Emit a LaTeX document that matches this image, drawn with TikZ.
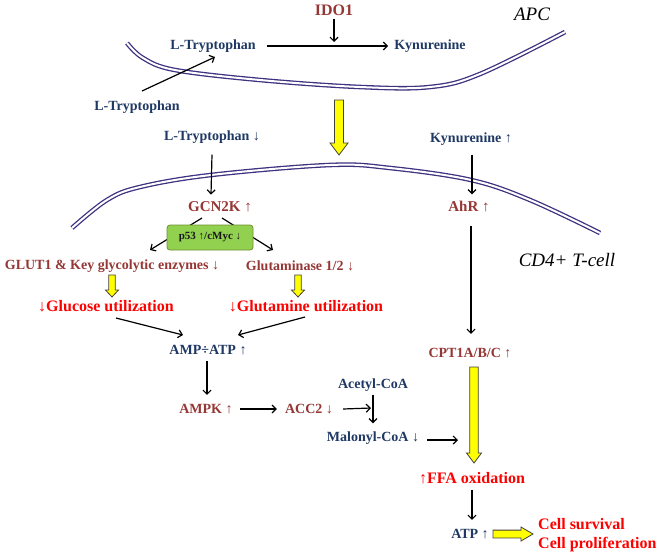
\documentclass[tikz,border=0pt]{standalone}
\usepackage{fontspec}
\setmainfont{Liberation Serif}
\usetikzlibrary{arrows.meta,calc}
\definecolor{dred}{HTML}{953735}
\definecolor{navy}{HTML}{1F3864}
\definecolor{bred}{HTML}{FF0000}
\definecolor{mem}{HTML}{3F3180}
\definecolor{boxg}{HTML}{92D050}
\definecolor{boxb}{HTML}{6F8F30}
\definecolor{yel}{HTML}{FFFF00}
\newcommand\yarrow[5]{%
  \coordinate (yh) at ($(#2)!#5!(#1)$);
  \filldraw[yarr] ($(#1)!#3!90:(#2)$) -- ($(yh)!#3!90:(#2)$) -- ($(yh)!#4!90:(#2)$)
    -- (#2) -- ($(yh)!#4!-90:(#2)$) -- ($(yh)!#3!-90:(#2)$) -- ($(#1)!#3!-90:(#2)$) -- cycle;}
\begin{document}
\begin{tikzpicture}[x=1pt,y=-1pt,
  lbl/.style={font=\bfseries\fontsize{14}{16}\selectfont, inner sep=0pt},
  nv/.style={lbl,text=navy},
  dr/.style={lbl,text=dred},
  rd/.style={lbl,text=bred,font=\bfseries\fontsize{16}{19}\selectfont},
  cellname/.style={font=\itshape\fontsize{19}{22}\selectfont, inner sep=0pt},
  arr/.style={draw=black, line width=1.2pt, -{Straight Barb[length=4pt,width=8pt,line width=1.2pt]}},
  membrane/.style={draw=mem, line width=1.3pt, double=white, double distance=2pt},
  yarr/.style={fill=yel, draw=black!85!yellow, line width=0.8pt, line join=miter},
  pbox/.style={draw=boxb, fill=boxg, rounded corners=3pt, line width=0.8pt, minimum width=86pt, minimum height=25pt, inner sep=0pt, font=\bfseries\fontsize{11}{13}\selectfont, text=black!90}
]
\useasboundingbox (0,0) rectangle (661,557);

% membranes
\draw[membrane] plot[smooth, tension=0.6] coordinates {(127,43) (143,58) (175,70) (260,80) (360,87) (430,87) (480,74) (565,32)};
\draw[membrane] plot[smooth, tension=0.6] coordinates {(72,228) (107,200) (140,187) (211,175) (330,165) (390,168) (471,180) (530,200) (600,233)};

% labels
\node[lbl, text=dred, font=\bfseries\fontsize{16}{19}\selectfont] (ido) at (334,10) {IDO1};
\node[cellname] (apc) at (532,14) {APC};
\node[nv] (trpA) at (213,46) {L-Tryptophan};
\node[nv] (kynA) at (430,46) {Kynurenine};
\node[nv] (trpOut) at (137,107) {L-Tryptophan};
\node[nv] (trpD) at (212,137) {L-Tryptophan ↓};
\node[nv] (kynU) at (471,139) {Kynurenine ↑};
\node[dr, font=\bfseries\fontsize{15}{17}\selectfont] (gcn) at (220,207) {GCN2K ↑};
\node[dr, font=\bfseries\fontsize{15}{17}\selectfont] (ahr) at (469,207) {AhR ↑};
\node[cellname] (cd4) at (567,260) {CD4+ T-cell};
\node[dr] (glut) at (112,266) {GLUT1 \& Key glycolytic enzymes ↓};
\node[dr] (glutam) at (300,266) {Glutaminase 1/2 ↓};
\node[rd] (glucose) at (106,306) {↓Glucose utilization};
\node[rd] (glutamine) at (306,306) {↓Glutamine utilization};
\node[nv] (amp) at (208,350) {AMP÷ATP ↑};
\node[dr] (ampk) at (206,409) {AMPK ↑};
\node[dr] (acc) at (309,409) {ACC2 ↓};
\node[nv] (acetyl) at (373,385) {Acetyl-CoA};
\node[nv] (malonyl) at (373,438) {Malonyl-CoA ↓};
\node[dr] (cpt) at (470,353) {CPT1A/B/C ↑};
\node[rd] (ffa) at (472,478) {↑FFA oxidation};
\node[nv] (atp) at (470,534) {ATP ↑};
\node[rd, align=left, anchor=west] (cell) at (538,535.5) {Cell survival\\Cell proliferation};

% helper coordinates
\coordinate (idotip) at (334,42);
\coordinate (o1) at (142,91);
\coordinate (o2) at (215,57);
\coordinate (join) at (371,408);
\coordinate (malend) at (458,440);

% black connectors
\draw[arr] (ido.south) ++(0,3) -- (idotip);
\draw[arr] ($(trpA.east)+(11,0)$) -- ($(kynA.west)+(-6,0)$);
\draw[arr] (o1) -- (o2);
\draw[arr] ($(trpD.south)+(0,11)$) -- ($(gcn.north)+(-9,-7)$);
\draw[arr] ($(kynU.south)+(1,9)$) -- ($(ahr.north)+(3,-7)$);
\draw[arr] (202,218) -- (150,250);
\draw[arr] (222,218) -- (273,250);
\draw[arr] (116,318) -- (183,335);
\draw[arr] (305,317) -- (238,335);
\draw[arr] ($(amp.south)+(-1,6)$) -- ($(ampk.north)+(1,-9)$);
\draw[arr] ($(ampk.east)+(7,0)$) -- ($(acc.west)+(-8,0)$);
\draw[arr] ($(acc.east)+(10,0)$) -- (join);
\draw[arr] ($(acetyl.south)+(0,3)$) -- ($(malonyl.north)+(0,-8)$);
\draw[arr] ($(malonyl.east)+(8,2)$) -- (malend);
\draw[arr] ($(ahr.south)+(2,13)$) -- ($(cpt.north)+(1,-14)$);
\draw[arr] ($(ffa.south)+(0,6)$) -- ($(atp.north)+(2,-9)$);

% p53 box on top of the arrows
\node[pbox] (p53) at (210,237.5) {p53 ↑/cMyc ↓};

% yellow block arrows
\coordinate (ys1) at (339,100); \coordinate (ye1) at (339,155);
\yarrow{ys1}{ye1}{4.5pt}{9pt}{12pt}
\coordinate (ys2) at (112,275); \coordinate (ye2) at (112,297);
\yarrow{ys2}{ye2}{3.2pt}{6.5pt}{7pt}
\coordinate (ys3) at (298,275); \coordinate (ye3) at (298,297);
\yarrow{ys3}{ye3}{3.2pt}{6.5pt}{7pt}
\coordinate (ys4) at (474,367); \coordinate (ye4) at (474,463);
\yarrow{ys4}{ye4}{4.3pt}{7.5pt}{10pt}
\coordinate (ys5) at (493,534); \coordinate (ye5) at (533,534);
\yarrow{ys5}{ye5}{3.9pt}{7pt}{12pt}
\end{tikzpicture}
\end{document}
